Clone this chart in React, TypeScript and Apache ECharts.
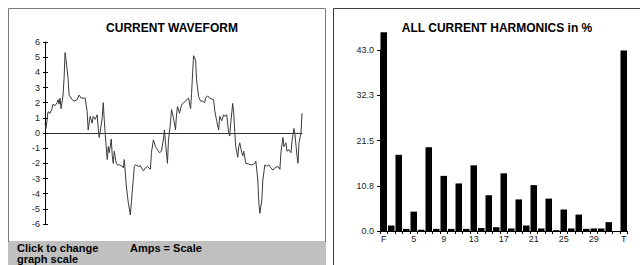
import React, { useEffect, useRef } from "react";
import * as echarts from "echarts";

// Waveform: sample index (0..256 over two cycles) and current in amps
const waveT = [
  0, 1, 3, 5, 7, 8, 10, 12, 13, 14, 15, 16, 18, 19, 20, 21, 23, 24, 27, 29, 32, 34, 36, 40, 42, 43, 45, 47, 48, 50,
  52, 53, 54, 55, 57, 58, 59, 60, 62, 63, 64, 66, 67, 68, 69, 71, 72, 74, 77, 78, 79, 81, 83, 85, 86, 88, 89, 90, 93, 95,
  97, 98, 100, 102, 105, 106, 108, 110, 111, 112, 114, 116, 118, 119, 120, 122, 123, 125, 126, 128, 130, 131, 132, 134, 136, 138, 140, 141, 143, 145,
  146, 147, 148, 150, 151, 153, 155, 157, 159, 160, 162, 164, 168, 169, 171, 173, 174, 176, 178, 179, 181, 183, 184, 185, 187, 188, 189, 190, 192, 193,
  194, 196, 197, 198, 200, 203, 205, 207, 209, 210, 212, 213, 214, 216, 217, 219, 221, 223, 225, 227, 229, 232, 234, 235, 237, 238, 240, 241, 243, 245,
  246, 248, 249, 251, 252, 253, 255, 256,
];
const waveAmps = [
  0.6, 0.3, 1.4, 1.3, 1.6, 1.9, 1.8, 2.0, 2.2, 1.9, 2.3, 1.6, 2.5, 3.6, 5.3, 4.8, 3.6, 2.5, 2.2, 2.1, 2.2, 2.5, 2.3, 2.3, 1.4, 0.2, 1.1, 0.65, 1.1, 0.9,
  1.2, 0.3, -0.3, 0.1, 1.0, 2.0, 0.9, -0.1, -1.75, -0.9, -1.3, -0.4, -1.5, -2.0, -1.2, -2.0, -2.1, -2.1, -2.2, -2.3, -1.75, -3.5, -4.6, -5.4, -4.6, -3.0, -2.2, -2.1, -2.2, -2.15,
  -2.4, -2.5, -2.3, -2.2, -2.4, -1.3, -0.45, -0.9, -1.0, -1.1, -1.3, -1.2, -0.4, 0.2, -0.65, -2.0, -0.45, 0.65, 1.55, 1.0, 0.2, 1.2, 1.75, 1.3, 1.85, 2.0, 2.1, 2.2, 2.3, 1.6,
  2.6, 3.9, 5.1, 4.8, 3.5, 2.4, 2.1, 2.1, 2.0, 2.3, 2.45, 2.3, 2.2, 1.5, 0.8, 0.2, 1.1, 0.8, 1.2, 1.1, 1.2, 0.0, -0.2, 0.65, 1.95, 1.3, 0.1, -0.9, -1.6, -0.9,
  -0.65, -1.3, -1.5, -1.2, -2.0, -2.05, -2.1, -2.1, -2.0, -1.85, -3.1, -4.6, -5.3, -4.4, -3.1, -2.1, -2.2, -2.1, -2.3, -2.45, -2.3, -2.2, -2.4, -1.3, -0.3, -0.9, -0.65, -1.2, -1.1, -1.3,
  -0.55, 0.3, -0.1, -1.5, -2.0, -0.65, 0.0, 1.3,
];

// Harmonics: F (fundamental), 2..32, T (total)
const harmonicLabels = [
  "F", "2", "3", "4", "5", "6", "7", "8", "9", "10", "11", "12", "13", "14", "15", "16", "17",
  "18", "19", "20", "21", "22", "23", "24", "25", "26", "27", "28", "29", "30", "31", "32", "T",
];
const harmonicPercent = [
  47.2, 1.3, 18.1, 0.5, 4.6, 0.3, 19.9, 0.5, 13.1, 0.5, 11.3, 0.5, 15.6, 0.7, 8.5, 0.9, 13.7,
  0.6, 7.5, 1.3, 10.9, 0.6, 7.7, 0.2, 5.1, 0.6, 3.9, 0.5, 0.6, 0.6, 2.1, 0, 42.9,
];
const ampTicks = { min: -6, max: 6, interval: 1 };
const pctTicks = { min: 0, max: 43, interval: 10.75 };

export default function App() {
  const ref = useRef<HTMLDivElement>(null);
  useEffect(() => {
    if (!ref.current) return;
    const chart = echarts.init(ref.current, null, { renderer: "svg" });
    const font = "Liberation Sans, Arial, sans-serif";
    const waveData = waveT.map((t, i) => [t, waveAmps[i]]);
    chart.setOption({
      animation: false,
      backgroundColor: "#ffffff",
      title: [
        {
          text: "CURRENT WAVEFORM",
          left: 167,
          top: 17,
          textAlign: "center",
          textStyle: { fontFamily: font, fontSize: 12, fontWeight: "bold", color: "#000" },
        },
        {
          text: "ALL CURRENT HARMONICS in %",
          left: 492,
          top: 17,
          textAlign: "center",
          textStyle: { fontFamily: font, fontSize: 12, fontWeight: "bold", color: "#000" },
        },
      ],
      grid: [
        { left: 45, top: 42, width: 257, height: 182 },
        { left: 380, top: 50, width: 247.5, height: 181 },
      ],
      xAxis: [
        {
          gridIndex: 0,
          type: "value",
          min: 0,
          max: 256,
          axisLine: { onZero: true, lineStyle: { color: "#333", width: 1 } },
          axisTick: { show: false },
          axisLabel: { show: false },
          splitLine: { show: false },
        },
        {
          gridIndex: 1,
          type: "category",
          data: harmonicLabels,
          boundaryGap: true,
          axisLine: { lineStyle: { color: "#000", width: 1 } },
          axisTick: { show: true, interval: 0, length: 3, lineStyle: { color: "#000" } },
          axisLabel: { interval: 3, fontFamily: font, fontSize: 9, color: "#222", margin: 3 },
          splitLine: { show: false },
        },
      ],
      yAxis: [
        {
          gridIndex: 0,
          type: "value",
          ...ampTicks,
          axisLine: { show: true, onZero: false, lineStyle: { color: "#000", width: 1 } },
          axisTick: { show: true, length: 2, lineStyle: { color: "#000" } },
          axisLabel: { fontFamily: font, fontSize: 9, color: "#222", margin: 5 },
          splitLine: { show: false },
        },
        {
          gridIndex: 0,
          type: "value",
          position: "left",
          ...ampTicks,
          axisLine: { show: false },
          axisTick: { show: true, inside: true, length: 3, lineStyle: { color: "#000" } },
          axisLabel: { show: false },
          splitLine: { show: false },
        },
        {
          gridIndex: 1,
          type: "value",
          ...pctTicks,
          axisLine: { show: true, lineStyle: { color: "#000", width: 1 } },
          axisTick: { show: true, length: 3, lineStyle: { color: "#000" } },
          axisLabel: {
            fontFamily: font,
            fontSize: 9,
            color: "#222",
            margin: 6,
            formatter: (v: number) => v.toFixed(1),
          },
          splitLine: { show: false },
        },
      ],
      series: [
        {
          type: "line",
          xAxisIndex: 0,
          yAxisIndex: 0,
          data: waveData,
          showSymbol: false,
          symbol: "none",
          lineStyle: { color: "#3a3a3a", width: 1 },
        },
        {
          type: "bar",
          xAxisIndex: 1,
          yAxisIndex: 2,
          data: harmonicPercent,
          barWidth: 6.5,
          clip: false,
          itemStyle: { color: "#000" },
        },
      ],
      graphic: [
        {
          type: "rect",
          shape: { x: 8, y: 241, width: 318, height: 24 },
          style: { fill: "#c0c0c0" },
          silent: true,
        },
        {
          type: "polyline",
          shape: { points: [[8.5, 242], [8.5, 8.5], [325.5, 8.5], [325.5, 242]] },
          style: { stroke: "#7a7a7a", lineWidth: 1, fill: "none" },
          silent: true,
        },
        {
          type: "polyline",
          shape: { points: [[333.5, 265], [333.5, 8.5], [640, 8.5]] },
          style: { stroke: "#3a3a3a", lineWidth: 1, fill: "none" },
          silent: true,
        },
        {
          type: "text",
          left: 17,
          top: 242,
          style: {
            text: "Click to change\ngraph scale",
            fontFamily: font,
            fontSize: 11,
            fontWeight: "bold",
            lineHeight: 11,
            fill: "#000",
          },
          silent: true,
        },
        {
          type: "text",
          left: 130,
          top: 242,
          style: {
            text: "Amps = Scale",
            fontFamily: font,
            fontSize: 11,
            fontWeight: "bold",
            fill: "#000",
          },
          silent: true,
        },
      ],
    });
    return () => chart.dispose();
  }, []);
  return (
    <div
      ref={ref}
      style={{ position: "absolute", left: 0, top: 0, width: 640, height: 265, overflow: "hidden" }}
    />
  );
}
